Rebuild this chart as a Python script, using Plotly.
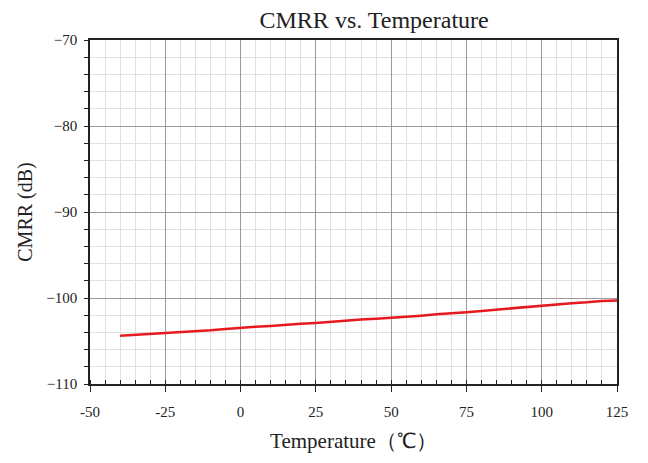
import plotly.graph_objects as go

temps = [-40, -35, -30, -25, -20, -15, -10, -5, 0, 5, 10, 15, 20, 25, 30, 35, 40,
         45, 50, 55, 60, 65, 70, 75, 80, 85, 90, 95, 100, 105, 110, 115, 120, 125]
cmrr = [-104.4, -104.3, -104.2, -104.1, -104.0, -103.85, -103.75, -103.6, -103.45,
        -103.35, -103.25, -103.1, -103.0, -102.9, -102.75, -102.65, -102.5, -102.4,
        -102.3, -102.15, -102.05, -101.9, -101.8, -101.65, -101.5, -101.35, -101.2,
        -101.0, -100.85, -100.75, -100.6, -100.5, -100.35, -100.3]

x_ticks = [-50, -25, 0, 25, 50, 75, 100, 125]
y_ticks = [-110, -100, -90, -80, -70]

font = "Liberation Serif"

fig = go.Figure()
fig.add_trace(go.Scatter(x=temps, y=cmrr, mode="lines",
                         line=dict(color="#e8191e", width=2.5), showlegend=False))

fig.update_layout(
    width=648, height=463,
    margin=dict(l=82, r=39, t=32, b=87),
    paper_bgcolor="white", plot_bgcolor="white",
    title=dict(text="CMRR vs. Temperature", x=0.565, xanchor="center", y=0.975, yanchor="middle",
               font=dict(family=font, size=24, color="#222")),
    font=dict(family=font, color="#222"),
)
fig.update_xaxes(
    range=[-50, 125], tickvals=x_ticks, ticktext=[str(v) for v in x_ticks],
    showgrid=True, gridcolor="#9a9a9a", gridwidth=1,
    minor=dict(tickmode="linear", tick0=-50, dtick=5, showgrid=True, gridcolor="#e0e0e0",
               ticks="inside", ticklen=4, tickcolor="#222"),
    ticks="outside", ticklen=6, tickcolor="#222",
    showline=True, linecolor="#222", linewidth=1.5, mirror=True, zeroline=False,
    tickfont=dict(size=15), ticklabelstandoff=7,
    title=dict(text="Temperature\uff08\u2103\uff09", font=dict(size=21), standoff=15),
)
fig.update_yaxes(
    range=[-110, -70], tickvals=y_ticks, ticktext=["\u2212110", "\u2212100", "\u221290", "\u221280", "\u221270"],
    showgrid=True, gridcolor="#9a9a9a", gridwidth=1,
    minor=dict(tickmode="linear", tick0=-110, dtick=2, showgrid=True, gridcolor="#e0e0e0",
               ticks="outside", ticklen=4, tickcolor="#222"),
    ticks="outside", ticklen=4, tickcolor="#222",
    showline=True, linecolor="#222", linewidth=1.5, mirror=True, zeroline=False,
    tickfont=dict(size=15), ticklabelstandoff=4,
    title=dict(text="CMRR (dB)", font=dict(size=20), standoff=8),
)

fig.write_html("out.html")
